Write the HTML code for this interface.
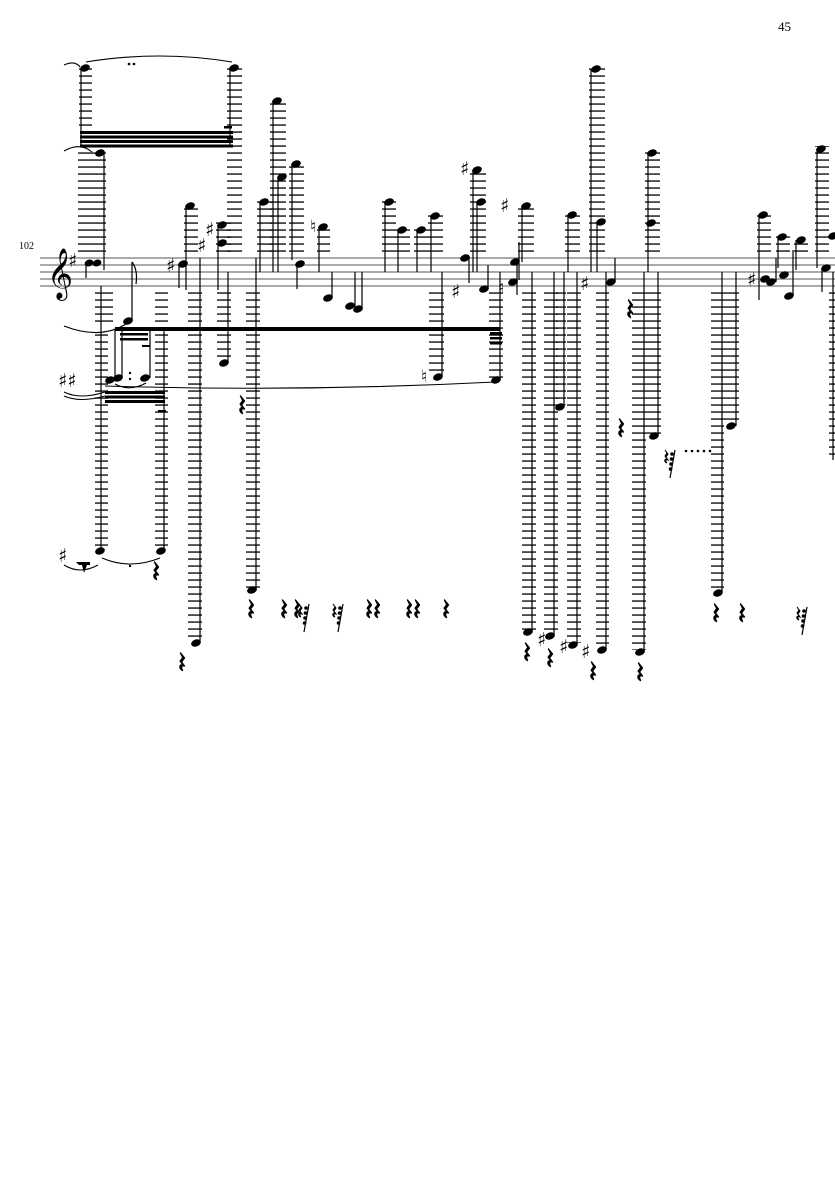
<!DOCTYPE html>
<html><head><meta charset="utf-8"><style>
html,body{margin:0;padding:0;background:#fff}
svg{display:block}
</style></head><body>
<svg width="835" height="1181" viewBox="0 0 835 1181" xmlns="http://www.w3.org/2000/svg">
<defs>
<pattern id="L" patternUnits="userSpaceOnUse" x="0" y="5.4" width="20" height="7"><rect x="0" y="0" width="20" height="1.3" fill="#000"/></pattern>
<symbol id="r" viewBox="0 0 7 18" width="7" height="18" overflow="visible"><path d="M1.5,0 L5.5,5 L2.5,9 L5.5,13 C3,12 1.5,13.5 3.5,17.5 C0,15.5 0,11 4,11.8 L1.2,8.2 L3.8,4.5 Z" fill="#000" stroke="#000" stroke-width="1.4" stroke-linejoin="round"/></symbol>
<symbol id="g" viewBox="0 0 12 30" width="12" height="30" overflow="visible"><path d="M1,2 L4,6 L2,9 L4,12 C2,11 1,13 3,15 C0,14 0,11 3,11 L1,8 L3,5Z" fill="#000" stroke="#000" stroke-width="1"/><line x1="11" y1="2" x2="6" y2="30" stroke="#000" stroke-width="1.2"/><circle cx="8" cy="6" r="1.8"/><circle cx="7.5" cy="11" r="1.8"/><circle cx="7" cy="16" r="1.8"/><circle cx="6.5" cy="21" r="1.8"/></symbol>
</defs>
<text x="778" y="31" font-family="Liberation Serif, serif" font-size="13">45</text>
<text x="19" y="249" font-family="Liberation Serif, serif" font-size="10">102</text>
<g stroke="#555" stroke-width="1">
<line x1="40" y1="258" x2="835" y2="258"/><line x1="40" y1="265" x2="835" y2="265"/><line x1="40" y1="272" x2="835" y2="272"/><line x1="40" y1="279" x2="835" y2="279"/><line x1="40" y1="286" x2="835" y2="286"/>
</g>
<text x="47" y="288" font-family="DejaVu Sans, serif" font-size="44">𝄞</text>
<g fill="url(#L)">
<rect x="79" y="68" width="13" height="62"/>
<rect x="227" y="68" width="15" height="186"/>
<rect x="78" y="148" width="28" height="106"/>
<rect x="184" y="204" width="14" height="50"/>
<rect x="216" y="222" width="15" height="32"/>
<rect x="257" y="200" width="15" height="54"/>
<rect x="270" y="99" width="16" height="155"/>
<rect x="289" y="161" width="15" height="93"/>
<rect x="317" y="225" width="13" height="29"/>
<rect x="382" y="200" width="14" height="54"/>
<rect x="396" y="228" width="14" height="26"/>
<rect x="414" y="228" width="14" height="26"/>
<rect x="428" y="213" width="15" height="41"/>
<rect x="470" y="168" width="16" height="86"/>
<rect x="518" y="204" width="16" height="50"/>
<rect x="565" y="212" width="15" height="42"/>
<rect x="589" y="66" width="16" height="188"/>
<rect x="645" y="150" width="15" height="104"/>
<rect x="757" y="212" width="14" height="42"/>
<rect x="776" y="235" width="14" height="19"/>
<rect x="794" y="238" width="14" height="16"/>
<rect x="815" y="146" width="14" height="108"/>
<rect x="95" y="290" width="18" height="36"/>
<rect x="95" y="332" width="13" height="216"/>
<rect x="155" y="290" width="13" height="258"/>
<rect x="188" y="290" width="14" height="351"/>
<rect x="217" y="290" width="14" height="70"/>
<rect x="246" y="290" width="14" height="298"/>
<rect x="429" y="290" width="15" height="85"/>
<rect x="489" y="290" width="14" height="88"/>
<rect x="522" y="290" width="14" height="340"/>
<rect x="544" y="290" width="14" height="345"/>
<rect x="556" y="290" width="10" height="115"/>
<rect x="567" y="290" width="14" height="353"/>
<rect x="596" y="290" width="13" height="358"/>
<rect x="632" y="290" width="14" height="360"/>
<rect x="646" y="290" width="15" height="144"/>
<rect x="711" y="290" width="13" height="301"/>
<rect x="724" y="290" width="15" height="134"/>
<rect x="829" y="290" width="6" height="170"/>
</g>
<g fill="#000">
<rect x="80" y="131" width="153" height="3"/><rect x="80" y="135.5" width="153" height="3"/><rect x="80" y="140" width="153" height="3"/><rect x="80" y="144.5" width="153" height="3"/>
<rect x="224" y="126" width="8" height="2.5"/>
<rect x="115" y="327" width="385" height="4"/>
<rect x="120" y="333" width="28" height="2.5"/><rect x="120" y="338" width="28" height="2.5"/><rect x="142" y="345" width="8" height="2"/>
<rect x="105" y="391" width="60" height="3"/><rect x="105" y="395.5" width="60" height="3"/><rect x="105" y="400" width="60" height="3"/><rect x="158" y="410" width="8" height="2"/>
<rect x="490" y="332" width="12" height="2.5"/><rect x="490" y="337" width="12" height="2.5"/><rect x="490" y="342" width="12" height="2.5"/>
</g>
<g stroke="#000" stroke-width="1.2">
<line x1="81" y1="68" x2="81" y2="147"/><line x1="230" y1="68" x2="230" y2="147"/>
<line x1="104" y1="153" x2="104" y2="270"/><line x1="86" y1="264" x2="86" y2="278"/>
<line x1="186" y1="206" x2="186" y2="290"/><line x1="179" y1="264" x2="179" y2="288"/>
<line x1="218" y1="225" x2="218" y2="290"/>
<line x1="260" y1="202" x2="260" y2="272"/><line x1="273" y1="101" x2="273" y2="272"/><line x1="278" y1="177" x2="278" y2="272"/><line x1="292" y1="164" x2="292" y2="260"/>
<line x1="319" y1="227" x2="319" y2="272"/><line x1="297" y1="264" x2="297" y2="289"/><line x1="332" y1="298" x2="332" y2="272"/><line x1="362" y1="310" x2="362" y2="272"/><line x1="355" y1="307" x2="355" y2="272"/>
<line x1="385" y1="202" x2="385" y2="272"/><line x1="398" y1="230" x2="398" y2="272"/><line x1="417" y1="230" x2="417" y2="272"/><line x1="431" y1="216" x2="431" y2="272"/>
<line x1="473" y1="170" x2="473" y2="272"/><line x1="477" y1="202" x2="477" y2="272"/><line x1="469" y1="258" x2="469" y2="283"/><line x1="488" y1="289" x2="488" y2="265"/>
<line x1="519" y1="280" x2="519" y2="242"/><line x1="522" y1="206" x2="522" y2="262"/><line x1="517" y1="262" x2="517" y2="295"/>
<line x1="568" y1="215" x2="568" y2="272"/><line x1="591" y1="69" x2="591" y2="272"/><line x1="597" y1="222" x2="597" y2="272"/><line x1="615" y1="282" x2="615" y2="258"/>
<line x1="648" y1="153" x2="648" y2="272"/>
<line x1="759" y1="215" x2="759" y2="300"/><line x1="776" y1="282" x2="776" y2="258"/><line x1="778" y1="237" x2="778" y2="268"/><line x1="793" y1="296" x2="793" y2="250"/><line x1="796" y1="240" x2="796" y2="270"/>
<line x1="817" y1="149" x2="817" y2="268"/><line x1="822" y1="268" x2="822" y2="292"/>
<line x1="132" y1="262" x2="132" y2="321"/>
<line x1="101" y1="286" x2="101" y2="551"/><line x1="164" y1="330" x2="164" y2="551"/>
<line x1="115" y1="330" x2="115" y2="380"/><line x1="122" y1="330" x2="122" y2="378"/><line x1="150" y1="330" x2="150" y2="378"/>
<line x1="200" y1="258" x2="200" y2="643"/><line x1="228" y1="272" x2="228" y2="363"/><line x1="256" y1="258" x2="256" y2="590"/>
<line x1="442" y1="272" x2="442" y2="377"/><line x1="500" y1="272" x2="500" y2="380"/>
<line x1="532" y1="272" x2="532" y2="632"/><line x1="554" y1="272" x2="554" y2="636"/><line x1="564" y1="272" x2="564" y2="407"/><line x1="577" y1="272" x2="577" y2="645"/><line x1="606" y1="272" x2="606" y2="650"/>
<line x1="644" y1="272" x2="644" y2="652"/><line x1="658" y1="272" x2="658" y2="436"/>
<line x1="722" y1="272" x2="722" y2="593"/><line x1="736" y1="272" x2="736" y2="426"/><line x1="833" y1="272" x2="833" y2="460"/>
</g>
<path d="M132,262 q6,8 4,22" stroke="#000" fill="none" stroke-width="1.2"/>
<g fill="#000">
<ellipse cx="85" cy="68" rx="5" ry="3.5" transform="rotate(-20 85 68)"/>
<ellipse cx="234" cy="68" rx="5" ry="3.5" transform="rotate(-20 234 68)"/>
<ellipse cx="100" cy="153" rx="5" ry="3.5" transform="rotate(-20 100 153)"/>
<ellipse cx="89" cy="263" rx="4.5" ry="3.3" transform="rotate(-20 89 263)"/><ellipse cx="97" cy="263" rx="4.5" ry="3.3" transform="rotate(-20 97 263)"/>
<ellipse cx="190" cy="206" rx="5" ry="3.5" transform="rotate(-20 190 206)"/><ellipse cx="183" cy="264" rx="5" ry="3.5" transform="rotate(-20 183 264)"/>
<ellipse cx="222" cy="225" rx="5" ry="3.5" transform="rotate(-20 222 225)"/><ellipse cx="222" cy="243" rx="5" ry="3.5" transform="rotate(-20 222 243)"/>
<ellipse cx="264" cy="202" rx="5" ry="3.5" transform="rotate(-20 264 202)"/><ellipse cx="277" cy="101" rx="5" ry="3.5" transform="rotate(-20 277 101)"/><ellipse cx="282" cy="177" rx="5" ry="3.5" transform="rotate(-20 282 177)"/><ellipse cx="296" cy="164" rx="5" ry="3.5" transform="rotate(-20 296 164)"/>
<ellipse cx="323" cy="227" rx="5" ry="3.5" transform="rotate(-20 323 227)"/><ellipse cx="300" cy="264" rx="5" ry="3.5" transform="rotate(-20 300 264)"/><ellipse cx="328" cy="298" rx="5" ry="3.5" transform="rotate(-20 328 298)"/><ellipse cx="350" cy="306" rx="5" ry="3.5" transform="rotate(-20 350 306)"/><ellipse cx="358" cy="309" rx="5" ry="3.5" transform="rotate(-20 358 309)"/>
<ellipse cx="389" cy="202" rx="5" ry="3.5" transform="rotate(-20 389 202)"/><ellipse cx="402" cy="230" rx="5" ry="3.5" transform="rotate(-20 402 230)"/><ellipse cx="421" cy="230" rx="5" ry="3.5" transform="rotate(-20 421 230)"/><ellipse cx="435" cy="216" rx="5" ry="3.5" transform="rotate(-20 435 216)"/>
<ellipse cx="477" cy="170" rx="5" ry="3.5" transform="rotate(-20 477 170)"/><ellipse cx="481" cy="202" rx="5" ry="3.5" transform="rotate(-20 481 202)"/><ellipse cx="465" cy="258" rx="5" ry="3.5" transform="rotate(-20 465 258)"/><ellipse cx="484" cy="289" rx="5" ry="3.5" transform="rotate(-20 484 289)"/>
<ellipse cx="515" cy="262" rx="5" ry="3.5" transform="rotate(-20 515 262)"/><ellipse cx="513" cy="282" rx="5" ry="3.5" transform="rotate(-20 513 282)"/><ellipse cx="526" cy="206" rx="5" ry="3.5" transform="rotate(-20 526 206)"/>
<ellipse cx="572" cy="215" rx="5" ry="3.5" transform="rotate(-20 572 215)"/><ellipse cx="596" cy="69" rx="5" ry="3.5" transform="rotate(-20 596 69)"/><ellipse cx="601" cy="222" rx="5" ry="3.5" transform="rotate(-20 601 222)"/><ellipse cx="611" cy="282" rx="5" ry="3.5" transform="rotate(-20 611 282)"/>
<ellipse cx="652" cy="153" rx="5" ry="3.5" transform="rotate(-20 652 153)"/><ellipse cx="651" cy="223" rx="5" ry="3.5" transform="rotate(-20 651 223)"/>
<ellipse cx="763" cy="215" rx="5" ry="3.5" transform="rotate(-20 763 215)"/><ellipse cx="765" cy="279" rx="5" ry="3.5" transform="rotate(-20 765 279)"/><ellipse cx="771" cy="282" rx="5" ry="3.5" transform="rotate(-20 771 282)"/><ellipse cx="782" cy="237" rx="5" ry="3.5" transform="rotate(-20 782 237)"/><ellipse cx="784" cy="275" rx="5" ry="3.5" transform="rotate(-20 784 275)"/><ellipse cx="789" cy="296" rx="5" ry="3.5" transform="rotate(-20 789 296)"/><ellipse cx="801" cy="240" rx="5" ry="3.5" transform="rotate(-20 801 240)"/>
<ellipse cx="821" cy="149" rx="5" ry="3.5" transform="rotate(-20 821 149)"/><ellipse cx="826" cy="268" rx="5" ry="3.5" transform="rotate(-20 826 268)"/><ellipse cx="833" cy="236" rx="5" ry="3.5" transform="rotate(-20 833 236)"/>
<ellipse cx="128" cy="321" rx="5" ry="3.5" transform="rotate(-20 128 321)"/>
<ellipse cx="110" cy="380" rx="5" ry="3.5" transform="rotate(-20 110 380)"/><ellipse cx="118" cy="378" rx="5" ry="3.5" transform="rotate(-20 118 378)"/><ellipse cx="145" cy="378" rx="5" ry="3.5" transform="rotate(-20 145 378)"/>
<ellipse cx="100" cy="551" rx="5" ry="3.5" transform="rotate(-20 100 551)"/><ellipse cx="161" cy="551" rx="5" ry="3.5" transform="rotate(-20 161 551)"/>
<ellipse cx="196" cy="643" rx="5" ry="3.5" transform="rotate(-20 196 643)"/><ellipse cx="224" cy="363" rx="5" ry="3.5" transform="rotate(-20 224 363)"/><ellipse cx="252" cy="590" rx="5" ry="3.5" transform="rotate(-20 252 590)"/>
<ellipse cx="438" cy="377" rx="5" ry="3.5" transform="rotate(-20 438 377)"/><ellipse cx="496" cy="380" rx="5" ry="3.5" transform="rotate(-20 496 380)"/>
<ellipse cx="528" cy="632" rx="5" ry="3.5" transform="rotate(-20 528 632)"/><ellipse cx="550" cy="636" rx="5" ry="3.5" transform="rotate(-20 550 636)"/><ellipse cx="560" cy="407" rx="5" ry="3.5" transform="rotate(-20 560 407)"/><ellipse cx="573" cy="645" rx="5" ry="3.5" transform="rotate(-20 573 645)"/><ellipse cx="602" cy="650" rx="5" ry="3.5" transform="rotate(-20 602 650)"/>
<ellipse cx="640" cy="652" rx="5" ry="3.5" transform="rotate(-20 640 652)"/><ellipse cx="654" cy="436" rx="5" ry="3.5" transform="rotate(-20 654 436)"/>
<ellipse cx="718" cy="593" rx="5" ry="3.5" transform="rotate(-20 718 593)"/><ellipse cx="731" cy="426" rx="5" ry="3.5" transform="rotate(-20 731 426)"/>
<circle cx="129" cy="64" r="1.3"/><circle cx="134" cy="64" r="1.3"/><circle cx="130" cy="373" r="1.2"/><circle cx="130" cy="379" r="1.2"/><circle cx="130" cy="566" r="1.2"/>
<circle cx="686" cy="451" r="1.3"/><circle cx="692" cy="451" r="1.3"/><circle cx="698" cy="451" r="1.3"/><circle cx="704" cy="451" r="1.3"/><circle cx="710" cy="451" r="1.3"/>
</g>
<g stroke="#000" fill="none" stroke-width="1.1">
<path d="M86,62 Q160,50 232,62"/>
<path d="M64,65 Q75,60 80,67"/><path d="M64,151 Q80,142 92,152"/>
<path d="M64,326 Q100,340 126,324"/>
<path d="M105,386 Q300,392 495,382"/>
<path d="M115,384 Q130,392 146,383"/>
<path d="M64,392 Q80,400 105,392"/><path d="M64,396 Q80,403 105,396"/>
<path d="M102,558 Q130,570 160,558"/>
<path d="M64,565 Q80,575 98,565"/>
</g>
<g font-family="DejaVu Sans, sans-serif" font-size="19" fill="#000">
<text x="68" y="267">♯</text><text x="166" y="272">♯</text><text x="197" y="252">♯</text><text x="205" y="236">♯</text>
<text x="310" y="232" font-size="17">♮</text><text x="460" y="175">♯</text><text x="451" y="298">♯</text><text x="500" y="212">♯</text>
<text x="498" y="293" font-size="17">♮</text><text x="580" y="290">♯</text><text x="747" y="286">♯</text>
<text x="421" y="382" font-size="17">♮</text>
<text x="58" y="387">♯♯</text><text x="58" y="562">♯</text>
<text x="537" y="646">♯</text><text x="559" y="653">♯</text><text x="581" y="658">♯</text>
</g>
<path d="M76,562 h14 v3 h-3 l-3,8 l-2,-8 h-3 z" fill="#000"/>
<g>
<use href="#r" x="179" y="653"/><use href="#r" x="239" y="396"/><use href="#r" x="248" y="600"/>
<use href="#r" x="281" y="600"/><use href="#r" x="294" y="600"/><use href="#r" x="366" y="600"/><use href="#r" x="374" y="600"/>
<use href="#r" x="406" y="600"/><use href="#r" x="414" y="600"/><use href="#r" x="443" y="600"/>
<use href="#r" x="153" y="562"/>
<use href="#r" x="524" y="643"/><use href="#r" x="547" y="649"/><use href="#r" x="590" y="662"/><use href="#r" x="637" y="663"/>
<use href="#r" x="627" y="300"/><use href="#r" x="618" y="419"/>
<use href="#r" x="713" y="604"/><use href="#r" x="739" y="604"/>
<use href="#g" x="298" y="602"/><use href="#g" x="332" y="602"/><use href="#g" x="664" y="448"/><use href="#g" x="796" y="605"/>
</g>
</svg>
</body></html>
